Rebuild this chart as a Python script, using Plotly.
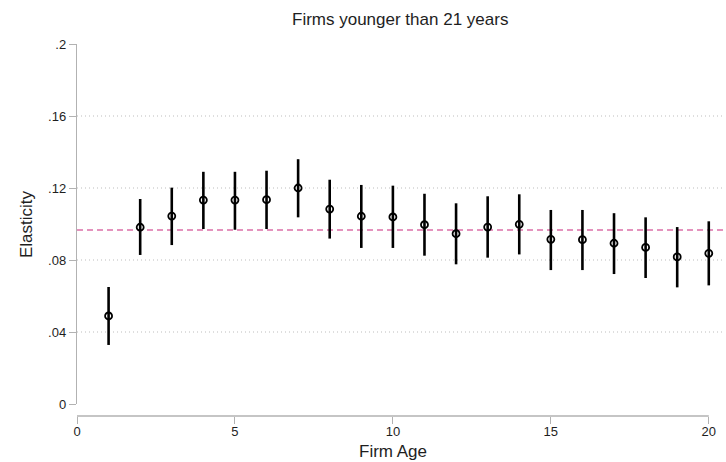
import plotly.graph_objects as go

# Point estimates and 95% confidence bounds of the elasticity by firm age
ages = list(range(1, 21))
estimate = [0.0489, 0.0982, 0.1044, 0.1133, 0.1133, 0.1135, 0.1200, 0.1083, 0.1043, 0.1039,
            0.0996, 0.0946, 0.0983, 0.0998, 0.0915, 0.0913, 0.0893, 0.0870, 0.0817, 0.0837]
upper = [0.0650, 0.1139, 0.1202, 0.1290, 0.1290, 0.1296, 0.1360, 0.1246, 0.1217, 0.1213,
         0.1168, 0.1115, 0.1154, 0.1165, 0.1078, 0.1078, 0.1060, 0.1037, 0.0983, 0.1015]
lower = [0.0328, 0.0828, 0.0883, 0.0972, 0.0968, 0.0972, 0.1037, 0.0919, 0.0867, 0.0867,
         0.0824, 0.0776, 0.0813, 0.0831, 0.0744, 0.0744, 0.0722, 0.0700, 0.0648, 0.0659]
average = 0.0967

x_ticks = [0, 5, 10, 15, 20]
y_ticks = [0, 0.04, 0.08, 0.12, 0.16, 0.2]
y_tick_text = ["0", ".04", ".08", ".12", ".16", ".2"]
grid_levels = [0.04, 0.08, 0.12, 0.16]

FONT = "Liberation Sans, Arial, Helvetica, sans-serif"
AXIS_GREY = "#b2b2b2"
TEXT = "#1e1e1e"

W, H = 726, 462
ML, MR, MT, MB = 77, 3, 44, 46
plot_h = H - MT - MB
y_zero_px = 404
y_dom0 = (H - MB - y_zero_px) / plot_h

fig = go.Figure()

fig.add_trace(go.Scatter(
    x=ages, y=estimate, mode="markers",
    marker=dict(symbol="circle-open", size=7, color="black", line=dict(width=1.8, color="black")),
    error_y=dict(type="data", symmetric=False,
                 array=[u - e for u, e in zip(upper, estimate)],
                 arrayminus=[e - l for e, l in zip(estimate, lower)],
                 color="black", thickness=2.6, width=0),
    showlegend=False, hoverinfo="skip",
))

shapes = []
# fine dotted horizontal grid
for g in grid_levels:
    shapes.append(dict(type="line", xref="x domain", yref="y", x0=0, x1=1, y0=g, y1=g,
                       line=dict(color="#bdbdbd", width=1, dash="1px,3px"), layer="below"))
# sample-average reference line
shapes.append(dict(type="line", xref="x domain", yref="y", x0=0, x1=1, y0=average, y1=average,
                   line=dict(color="#dc6fa8", width=1.4, dash="6px,4px"), layer="below"))
# offset x axis line spanning 0..20
shapes.append(dict(type="line", xref="x", yref="paper", x0=0, x1=20, y0=0, y1=0,
                   line=dict(color=AXIS_GREY, width=1.4)))

fig.update_layout(
    width=W, height=H,
    margin=dict(l=ML, r=MR, t=MT, b=MB, pad=0),
    paper_bgcolor="white", plot_bgcolor="white",
    font=dict(family=FONT, color=TEXT, size=13),
    shapes=shapes,
    xaxis=dict(range=[0, 20.45], tickvals=x_ticks, anchor="free", position=0,
               showline=False, showgrid=False, zeroline=False,
               ticks="outside", ticklen=7, tickwidth=1.2, tickcolor=AXIS_GREY,
               ticklabelstandoff=-4,
               tickfont=dict(size=13, color=TEXT)),
    yaxis=dict(range=[0, 0.2], domain=[y_dom0, 1], tickvals=y_ticks, ticktext=y_tick_text,
               showline=True, linecolor=AXIS_GREY, linewidth=1.4,
               showgrid=False, zeroline=False,
               ticks="outside", ticklen=7, tickwidth=1.2, tickcolor=AXIS_GREY,
               tickfont=dict(size=13, color=TEXT)),
    annotations=[
        dict(text="Firms younger than 21 years", xref="paper", yref="paper",
             x=0.5, y=(H - MB - 19) / plot_h, xanchor="center", yanchor="middle",
             showarrow=False, font=dict(size=17, color=TEXT)),
        dict(text="Firm Age", xref="x", yref="paper",
             x=10, y=(H - MB - 452) / plot_h, xanchor="center", yanchor="middle",
             showarrow=False, font=dict(size=17, color=TEXT)),
        dict(text="Elasticity", xref="paper", yref="paper", textangle=-90,
             x=(26 - ML) / (W - ML - MR), y=(H - MB - 224) / plot_h,
             xanchor="center", yanchor="middle",
             showarrow=False, font=dict(size=17, color=TEXT)),
    ],
)

fig.write_html("out.html")
